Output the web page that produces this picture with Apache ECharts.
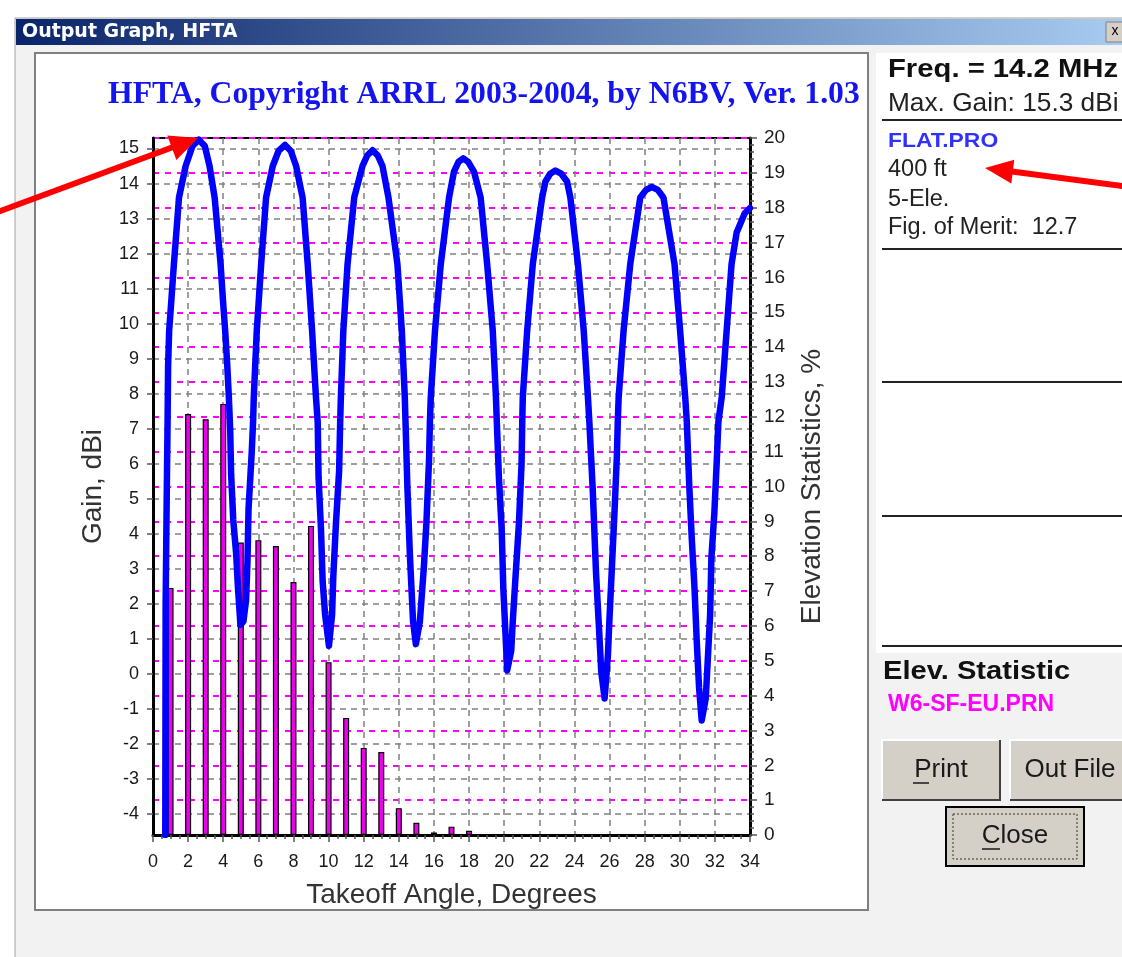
<!DOCTYPE html>
<html><head><meta charset="utf-8">
<script src="https://cdn.jsdelivr.net/npm/echarts@6/dist/echarts.min.js"></script>
<style>html,body{margin:0;padding:0;background:#fff}#c{width:1122px;height:957px}</style>
</head><body><div id="c"></div>
<script>
// ---- data ----
const curveAngle = [0.70,0.72,0.78,0.83,0.86,0.92,1.05,1.19,1.33,1.48,1.86,2.25,2.61,2.95,3.22,3.51,3.69,3.85,3.98,4.11,4.23,4.32,4.40,4.45,4.57,4.74,4.84,4.98,5.15,5.30,5.38,5.44,5.62,5.70,5.74,5.91,6.16,6.44,6.82,7.15,7.52,7.85,8.15,8.52,8.81,9.06,9.28,9.38,9.43,9.57,9.66,9.80,10.02,10.20,10.27,10.42,10.60,10.66,10.70,10.84,11.08,11.46,11.93,12.20,12.50,12.80,13.07,13.41,13.92,14.17,14.34,14.38,14.49,14.63,14.81,14.97,15.20,15.42,15.57,15.72,15.77,15.82,16.06,16.39,16.86,17.14,17.40,17.67,17.95,18.28,18.66,19.03,19.35,19.53,19.58,19.70,19.86,19.95,20.06,20.17,20.40,20.49,20.65,20.84,20.99,21.03,21.06,21.31,21.63,22.16,22.35,22.62,22.92,23.25,23.58,23.77,24.20,24.53,24.77,24.85,25.04,25.23,25.38,25.53,25.72,25.91,25.99,26.14,26.29,26.42,26.47,26.52,26.80,27.18,27.75,28.08,28.41,28.75,29.07,29.70,30.02,30.31,30.40,30.53,30.68,30.84,30.97,31.10,31.25,31.48,31.59,31.73,31.80,31.97,32.10,32.20,32.39,32.67,32.95,33.24,33.70,34.00];
const curveGain = [-4.6,2.0,5.0,7.2,8.8,9.8,10.7,11.7,12.6,13.6,14.5,15.07,15.25,15.07,14.5,13.6,12.6,11.7,10.7,9.8,8.8,7.9,6.9,5.7,4.4,3.4,2.45,1.4,1.5,2.1,3.2,4.7,6.3,7.2,7.9,9.8,11.7,13.6,14.5,14.93,15.1,14.93,14.5,13.6,11.7,9.8,7.9,7.2,5.6,4.1,2.65,1.7,0.8,1.7,2.8,4.3,5.8,7.2,7.9,9.8,11.7,13.6,14.5,14.8,14.95,14.8,14.5,13.6,11.7,9.8,7.9,7.2,5.3,3.4,1.5,0.85,1.5,3.0,4.3,6.1,7.2,7.9,9.8,11.7,13.6,14.34,14.62,14.72,14.62,14.34,13.6,11.7,9.8,7.9,7.2,5.6,4.1,2.45,1.3,0.1,0.65,1.5,2.8,4.3,6.0,7.2,7.9,9.8,11.7,13.6,14.06,14.28,14.37,14.28,14.06,13.6,11.7,9.8,7.9,7.2,5.3,2.9,1.5,0.05,-0.7,0.55,1.5,3.1,4.7,6.25,7.2,7.9,9.8,11.7,13.6,13.82,13.9,13.82,13.6,11.7,9.8,7.9,7.2,5.5,3.9,2.45,0.9,-0.4,-1.33,-0.7,0.35,1.7,3.3,4.6,6.0,7.2,7.9,9.8,11.7,12.6,13.15,13.3];
const barAngle = [1,2,3,4,5,6,7,8,9,10,11,12,13,14,15,16,17,18];
const elevPct  = [7.09,12.08,11.93,12.37,8.39,8.46,8.29,7.26,8.87,4.96,3.36,2.50,2.38,0.77,0.35,0.07,0.24,0.12];
const gainTicks = [-4,-3,-2,-1,0,1,2,3,4,5,6,7,8,9,10,11,12,13,14,15];
const chartTitle = 'HFTA, Copyright ARRL 2003-2004, by N6BV, Ver. 1.03';
const infoLines = ['400 ft','5-Ele.','Fig. of Merit:  12.7'];

const chart = echarts.init(document.getElementById('c'), null, {renderer:'canvas'});
const SANS = 'Liberation Sans, Arial, sans-serif';

function hline(y, x1, x2, color, w) {
  return {type:'line', z:-5, shape:{x1:x1,y1:y,x2:x2,y2:y}, style:{stroke:color,lineWidth:w}};
}
function txt(x, y, text, font, fill, align, sx) {
  return {type:'text', z:5, x:x, y:y, scaleX:sx||1, style:{text:text, font:font, fill:fill, textAlign:align||'left', textVerticalAlign:'middle'}};
}
function button(x, y, w, h, label, tx, ux, uw) {
  return [
    {type:'rect', z:-5, shape:{x:x,y:y,width:w,height:h}, style:{fill:'#d4d0c8', stroke:null}},
    {type:'polyline', z:-4, shape:{points:[[x,y+h],[x,y],[x+w,y]]}, style:{stroke:'#ffffff',lineWidth:2,fill:null}},
    {type:'polyline', z:-4, shape:{points:[[x,y+h],[x+w,y+h],[x+w,y]]}, style:{stroke:'#404040',lineWidth:2,fill:null}},
    txt(tx, y+h/2, label, '26px '+SANS, '#1a1a1a', 'center'),
    {type:'line', z:5, shape:{x1:ux,y1:y+h/2+13,x2:ux+uw,y2:y+h/2+13}, style:{stroke:'#1a1a1a',lineWidth:1.5}}
  ];
}

const graphics = [
  {type:'rect', z:-10, shape:{x:15,y:18,width:1120,height:950}, style:{fill:'#f2f2f2', stroke:'#a0a0a0', lineWidth:1}},
  {type:'rect', z:-9, shape:{x:16,y:19,width:1106,height:26}, style:{fill:new echarts.graphic.LinearGradient(0,0,1,0,[{offset:0,color:'#0a246a'},{offset:1,color:'#a8cbf0'}])}},
  txt(22, 32, 'Output Graph, HFTA', 'bold 19px DejaVu Sans, sans-serif', '#ffffff'),
  {type:'rect', z:-8, shape:{x:1106,y:22,width:20,height:20}, style:{fill:'#d4d0c8', stroke:'#808080'}},
  txt(1115, 31, 'x', '14px '+SANS, '#000', 'center'),
  {type:'rect', z:-8, shape:{x:35,y:53,width:833,height:857}, style:{fill:'#ffffff', stroke:'#808080', lineWidth:2}},
  {type:'rect', z:-8, shape:{x:876,y:53,width:250,height:600}, style:{fill:'#ffffff', stroke:null}},
  txt(888, 70, 'Freq. = 14.2 MHz', 'bold 26px '+SANS, '#111', 'left', 1.125),
  txt(888, 104, 'Max. Gain: 15.3 dBi', '25px '+SANS, '#222', 'left', 1.05),
  hline(120, 882, 1122, '#222', 2),
  txt(888, 141, 'FLAT.PRO', 'bold 21px '+SANS, '#3030ff', 'left', 1.09),
  txt(888, 170, infoLines[0], '23.5px '+SANS, '#222'),
  txt(888, 200, infoLines[1], '23.5px '+SANS, '#222'),
  txt(888, 228, infoLines[2], '23.5px '+SANS, '#222'),
  hline(249, 882, 1122, '#222', 2),
  hline(382, 882, 1122, '#222', 2),
  hline(516, 882, 1122, '#222', 2),
  hline(646, 882, 1122, '#222', 2),
  txt(883, 672, 'Elev. Statistic', 'bold 26px '+SANS, '#111', 'left', 1.12),
  txt(888, 705, 'W6-SF-EU.PRN', 'bold 23px '+SANS, '#ff00ff'),
  ...button(882, 740, 118, 60, 'Print', 941, 913, 16),
  ...button(1010, 740, 130, 60, 'Out File', 1070, 0, 0),
  {type:'rect', z:-6, shape:{x:946,y:807,width:138,height:59}, style:{fill:'#d4d0c8', stroke:'#000', lineWidth:2}},
  {type:'rect', z:-5, shape:{x:953,y:814,width:124,height:45}, style:{fill:null, stroke:'#333', lineWidth:1, lineDash:[2,2]}},
  txt(1015, 836, 'Close', '26px '+SANS, '#1a1a1a', 'center'),
  {type:'line', z:5, shape:{x1:982,y1:849,x2:1000,y2:849}, style:{stroke:'#1a1a1a',lineWidth:1.5}},
  // red arrows
  {type:'line', z:100, shape:{x1:-5,y1:213,x2:176,y2:146}, style:{stroke:'#ff0000',lineWidth:6}},
  {type:'polygon', z:100, shape:{points:[[198,138],[176.4,160.0],[167.3,135.6]]}, style:{fill:'#ff0000'}},
  {type:'line', z:100, shape:{x1:1130,y1:187,x2:1008,y2:171}, style:{stroke:'#ff0000',lineWidth:6}},
  {type:'polygon', z:100, shape:{points:[[985,168],[1014.3,159.7],[1011.3,183.5]]}, style:{fill:'#ff0000'}}
];

const option = {
  animation:false,
  title:{text:chartTitle, left:103, top:74, textStyle:{fontFamily:'Liberation Serif, Times New Roman, serif', fontWeight:'bold', fontSize:31.7, color:'#1414f0'}},
  grid:{left:153, top:138, width:597, height:697, show:true, backgroundColor:'#fff', borderColor:'#000', borderWidth:2, containLabel:false},
  xAxis:{type:'value', min:0, max:34, interval:2,
    name:'Takeoff Angle, Degrees', nameLocation:'middle', nameGap:46,
    nameTextStyle:{fontFamily:SANS, fontSize:28, color:'#333'},
    axisLine:{show:true, onZero:false, lineStyle:{color:'#000', width:3}},
    axisTick:{show:true, length:7, lineStyle:{color:'#555', width:1.5}},
    minorTick:{show:true, splitNumber:4, length:4, lineStyle:{color:'#555', width:1.5}},
    axisLabel:{fontFamily:SANS, fontSize:18, color:'#1a1a1a', margin:18},
    splitLine:{show:true, lineStyle:{color:'#808080', width:1.5, type:[6,5]}}
  },
  yAxis:[
    {type:'value', min:-4.6, max:15.3, position:'left',
      name:'Gain, dBi', nameLocation:'middle', nameGap:46, nameRotate:90,
      nameTextStyle:{fontFamily:SANS, fontSize:28, color:'#333'},
      axisLine:{show:true, onZero:false, lineStyle:{color:'#000', width:3}},
      axisTick:{show:true, length:6, customValues:gainTicks, lineStyle:{color:'#555', width:1.5}},
      axisLabel:{fontFamily:SANS, fontSize:18, color:'#1a1a1a', margin:14, customValues:gainTicks},
      splitLine:{show:true, lineStyle:{color:'#808080', width:1.5, type:[6,5]}}
    },
    {type:'value', min:0, max:20, interval:1, position:'right',
      name:'Elevation Statistics, %', nameLocation:'middle', nameGap:48, nameRotate:90,
      nameTextStyle:{fontFamily:SANS, fontSize:28, color:'#333'},
      axisLine:{show:true, onZero:false, lineStyle:{color:'#000', width:3}},
      axisTick:{show:true, length:7, lineStyle:{color:'#555', width:1.5}},
      minorTick:{show:true, splitNumber:5, length:4, lineStyle:{color:'#555', width:1.5}},
      axisLabel:{fontFamily:SANS, fontSize:19, color:'#1a1a1a', margin:14},
      splitLine:{show:true, lineStyle:{color:'#ff00ff', width:2, type:[6,6]}}
    }
  ],
  graphic:{elements:graphics},
  series:[
    {type:'bar', xAxisIndex:0, yAxisIndex:1, barWidth:6,
      data:barAngle.map((a,i)=>[a, elevPct[i]]),
      itemStyle:{color:'#ee00ee', borderColor:'#000', borderWidth:1.2}},
    {type:'line', xAxisIndex:0, yAxisIndex:0, showSymbol:false, clip:true, smooth:false,
      data:curveAngle.map((a,i)=>[a, curveGain[i]]),
      lineStyle:{color:'#0000ff', width:6.5, join:'round', cap:'round'}}
  ]
};
chart.setOption(option);
</script></body></html>
